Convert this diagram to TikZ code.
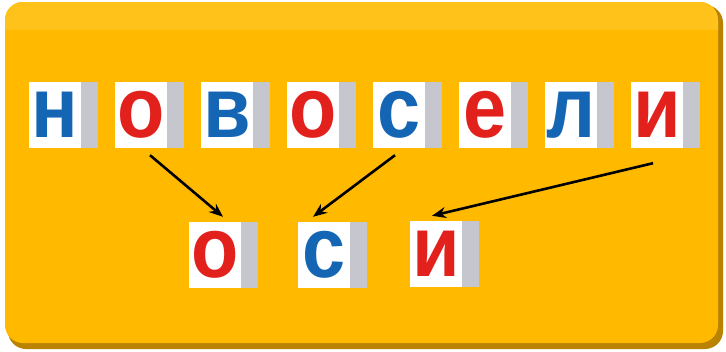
\documentclass[tikz,border=0pt]{standalone}
\usepackage{fontspec}
\newfontfamily\cubefont[FakeStretch=0.9]{Liberation Sans}
\usepackage{xcolor}
\usepackage{tikz}
\usetikzlibrary{arrows.meta}
\definecolor{boardorange}{HTML}{FFBA00}
\definecolor{boardlight}{HTML}{FFC21A}
\definecolor{boardedge}{HTML}{B98200}
\definecolor{letterblue}{HTML}{1466B4}
\definecolor{letterred}{HTML}{E3211C}
\definecolor{cubeside}{HTML}{C6C6CE}

\begin{document}
\begin{tikzpicture}[x=1pt, y=-1pt,
        cube/.style={fill=white, minimum width=52pt, minimum height=66pt, inner sep=0pt,
            font=\cubefont\bfseries\fontsize{86}{86}\selectfont},
        side/.style={fill=cubeside},
        arr/.style={-{Stealth[length=14pt,width=11pt]}, line width=2.6pt}]
        \useasboundingbox (0,0) rectangle (726,351);
        \fill[white] (0,0) rectangle (726,351);
        \fill[boardedge, rounded corners=18pt] (8,5) rectangle (723,349);
        \fill[boardorange, rounded corners=18pt] (5,2) rectangle (718,343);
        \fill[boardlight, rounded corners=18pt] (5,2) rectangle (718,48);
        \fill[boardorange] (5,30) rectangle (718,48);
        \foreach \l/\c [count=\i] in {н/letterblue, о/letterred, в/letterblue, о/letterred, с/letterblue, е/letterred, л/letterblue, и/letterred}
            \node[cube, text=\c] (t\i) at ({55+86*(\i-1)},115) {\l};
        \node[cube, text=letterred] (b1) at (215,255) {о};
        \node[cube, text=letterblue] (b2) at (324,255) {с};
        \node[cube, text=letterred] (b3) at (436,254) {и};
        \foreach \n in {t1,t2,t3,t4,t5,t6,t7,t8,b1,b2,b3}
            \fill[side] (\n.north east) rectangle ([xshift=17pt]\n.south east);
        \draw[arr] ([xshift=9pt,yshift=-7pt]t2.south) -- ([xshift=8pt,yshift=5pt]b1.north);
        \draw[arr] ([xshift=-4pt,yshift=-7pt]t5.south) -- ([xshift=-11pt,yshift=5pt]b2.north);
        \draw[arr] ([xshift=-4pt,yshift=-15pt]t8.south) -- ([xshift=-4pt,yshift=5pt]b3.north);
    \end{tikzpicture}
\end{document}
